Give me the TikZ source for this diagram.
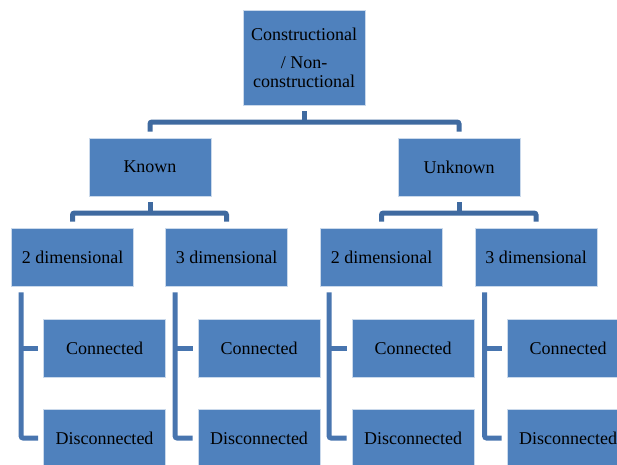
\documentclass[tikz,border=0pt]{standalone}
\usepackage{fontspec}
\setmainfont{Liberation Serif}
\newfontfamily\tnr{Liberation Serif}
\definecolor{boxblue}{RGB}{79,129,189}
\definecolor{lineblue}{RGB}{63,106,160}
\definecolor{sideblue}{RGB}{72,117,175}
\begin{document}
\begin{tikzpicture}[x=1pt,y=-1pt,
  box/.style={rectangle, fill=boxblue, draw=white!70!boxblue, line width=0.8pt,
    minimum width=122pt, minimum height=58pt, inner sep=0pt,
    font=\tnr\fontsize{18}{21}\selectfont, text=black},
  conn/.style={draw=lineblue, line width=5pt, rounded corners=2pt},
  sideconn/.style={draw=sideblue, line width=5pt, rounded corners=2pt}]
\useasboundingbox (0,0) rectangle (617,464);
\clip (0,0) rectangle (617,464);
% nodes
\node[box, minimum height=95pt, align=center] (top) at (304,57.5)
  {Constructional\\[7pt]/ Non-\\[-2pt]constructional};
\node[box] (known) at (150,167) {Known};
\node[box] (unknown) at (459,167) {Unknown};
\node[box] (k2) at (72.5,257) {2 dimensional};
\node[box] (k3) at (226.5,257) {3 dimensional};
\node[box] (u2) at (381.5,257) {2 dimensional};
\node[box] (u3) at (536,257) {3 dimensional};
\node[box] (kc2) at (104.5,348) {Connected};
\node[box] (kd2) at (104.5,438) {Disconnected};
\node[box] (kc3) at (259,348) {Connected};
\node[box] (kd3) at (259,438) {Disconnected};
\node[box] (uc2) at (413,348) {Connected};
\node[box] (ud2) at (413,438) {Disconnected};
\node[box] (uc3) at (568,348) {Connected};
\node[box] (ud3) at (568,438) {Disconnected};
% top bracket
\coordinate (tb) at (304,122);
\draw[conn] ([yshift=-6pt]top.south) -- (tb);
\draw[conn] ([yshift=6pt]known.north) |- (tb) -| ([yshift=6pt]unknown.north);
% known bracket
\coordinate (kb) at (150,213);
\draw[conn] ([yshift=-6pt]known.south) -- (kb);
\draw[conn] ([yshift=6pt]k2.north) |- (kb) -| ([yshift=6pt]k3.north);
% unknown bracket
\coordinate (ub) at (459,213);
\draw[conn] ([yshift=-6pt]unknown.south) -- (ub);
\draw[conn] ([yshift=6pt]u2.north) |- (ub) -| ([yshift=6pt]u3.north);
% side brackets
\coordinate (k2v) at ([xshift=10pt,yshift=-6pt]k2.south west);
\draw[sideconn] (k2v) |- ([xshift=-5pt]kd2.west);
\draw[sideconn] (k2v |- kc2.west) -- ([xshift=-5pt]kc2.west);
\coordinate (k3v) at ([xshift=10pt,yshift=-6pt]k3.south west);
\draw[sideconn] (k3v) |- ([xshift=-5pt]kd3.west);
\draw[sideconn] (k3v |- kc3.west) -- ([xshift=-5pt]kc3.west);
\coordinate (u2v) at ([xshift=9pt,yshift=-6pt]u2.south west);
\draw[sideconn] (u2v) |- ([xshift=-5pt]ud2.west);
\draw[sideconn] (u2v |- uc2.west) -- ([xshift=-5pt]uc2.west);
\coordinate (u3v) at ([xshift=10pt,yshift=-6pt]u3.south west);
\draw[sideconn] (u3v) |- ([xshift=-5pt]ud3.west);
\draw[sideconn] (u3v |- uc3.west) -- ([xshift=-5pt]uc3.west);
\end{tikzpicture}
\end{document}
